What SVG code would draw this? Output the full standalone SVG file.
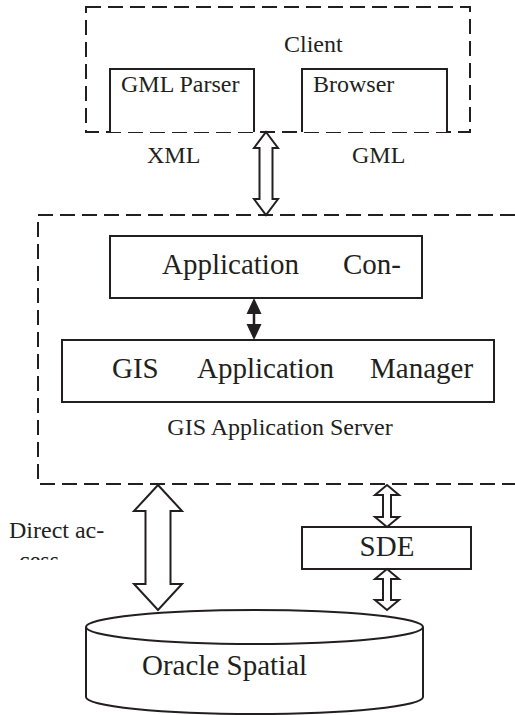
<svg xmlns="http://www.w3.org/2000/svg" width="515" height="715" viewBox="0 0 515 715">
<defs>
<style>
.t{font-family:"Liberation Serif",serif;fill:#231f20}
.dash{fill:none;stroke:#231f20;stroke-width:2;stroke-dasharray:15 7}
.box{fill:#fff;stroke:#231f20;stroke-width:2}
.hollow{fill:#fff;stroke:#231f20;stroke-width:2;stroke-linejoin:miter}
</style>
<clipPath id="clipText"><rect x="0" y="500" width="150" height="60"/></clipPath>
</defs>
<rect width="515" height="715" fill="#fff"/>
<g id="client">
<rect class="dash" x="86" y="7" width="384" height="125"/>
<text class="t" x="284" y="52" font-size="24">Client</text>
</g>
<g id="gml-parser">
<path class="box" d="M110 132 V69 H254 V132"/>
<text class="t" x="121" y="92" font-size="24">GML Parser</text>
</g>
<g id="browser">
<path class="box" d="M302 132 V69 H447 V132"/>
<text class="t" x="313" y="92" font-size="24">Browser</text>
</g>
<g id="labels">
<text class="t" x="147" y="163" font-size="24">XML</text>
<text class="t" x="352" y="163" font-size="24">GML</text>
<text class="t" x="9" y="538" font-size="24">Direct ac-</text>
<text class="t" x="19" y="568" font-size="24" clip-path="url(#clipText)">cess</text>
</g>
<g id="server">
<path class="dash" d="M515 215 H38 V484 H515"/>
<text class="t" x="280" y="435" font-size="24" text-anchor="middle">GIS Application Server</text>
</g>
<g id="app-con">
<rect class="box" x="110" y="236" width="312" height="62"/>
<text class="t" x="162" y="274" font-size="29">Application</text>
<text class="t" x="343" y="274" font-size="29">Con-</text>
</g>
<g id="gis-manager">
<rect class="box" x="62" y="340" width="432" height="62"/>
<text class="t" x="112" y="378" font-size="29">GIS</text>
<text class="t" x="197" y="378" font-size="29">Application</text>
<text class="t" x="370" y="378" font-size="29">Manager</text>
</g>
<g id="sde">
<rect class="box" x="302" y="527" width="169" height="42"/>
<text class="t" x="387" y="556" font-size="29" text-anchor="middle">SDE</text>
</g>
<g id="oracle">
<path class="box" d="M86 627 V697 A168.5 17 0 0 0 423 697 V627"/>
<ellipse class="box" cx="254.5" cy="627" rx="168.5" ry="17"/>
<text class="t" x="142" y="675" font-size="29">Oracle Spatial</text>
</g>
<g id="connectors">
<polygon class="hollow" points="266,132 278,148 272.5,148 272.5,199 278,199 266,215 254,199 259.5,199 259.5,148 254,148"/>
<line x1="254" y1="310" x2="254" y2="328" stroke="#231f20" stroke-width="2.5"/>
<polygon points="254,298 261.5,314 246.5,314" fill="#231f20"/>
<polygon points="254,340 261.5,324 246.5,324" fill="#231f20"/>
<polygon class="hollow" points="158,485 182,511 170.5,511 170.5,584 182,584 158,610 134,584 145.5,584 145.5,511 134,511"/>
<polygon class="hollow" points="387,485 399,495 391,495 391,517 399,517 387,527 375,517 383,517 383,495 375,495"/>
<polygon class="hollow" points="387,569 399,579 391,579 391,600 399,600 387,610 375,600 383,600 383,579 375,579"/>
</g>
</svg>
